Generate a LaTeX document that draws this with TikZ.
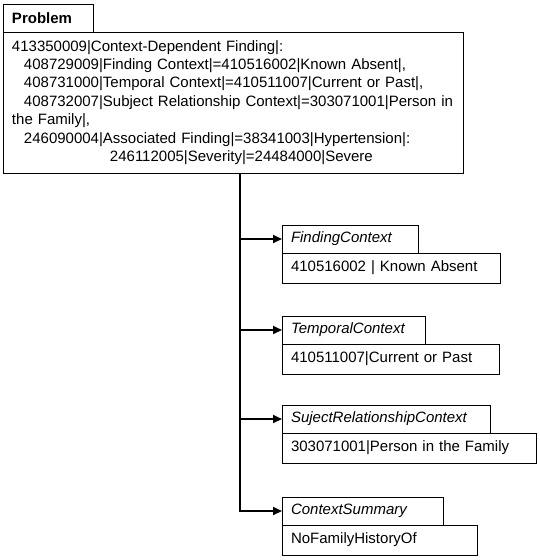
\documentclass[tikz,border=0pt]{standalone}
\usepackage{fontspec}
\setmainfont{Liberation Sans}
\usetikzlibrary{positioning, arrows.meta}
\tikzstyle{tab} = [rectangle, draw, line width=1pt, outer sep=0pt,
                 anchor=north west, inner xsep=9pt, inner ysep=0pt,
                 minimum height=28pt, align=left]
\tikzstyle{branch} = [line width=2pt, draw]
\tikzset{
	valuebox/.style={tab, minimum height=30pt},
	every node/.style={font=\fontsize{15}{18.4}\selectfont},
}

\begin{document}
\begin{tikzpicture}[x=1pt, y=-1pt]

\useasboundingbox (0,0) rectangle (539,560);

\node [tab, text width=72pt] at (3,4) (problem) {\bfseries Problem};
\node [tab, text width=442pt, minimum height=141pt] at (problem.south west) (body)
	{413350009|Context-Dependent Finding|:\\
	\hspace*{12pt}408729009|Finding Context|=410516002|Known Absent|,\\
	\hspace*{12pt}408731000|Temporal Context|=410511007|Current or Past|,\\
	\hspace*{12pt}408732007|Subject Relationship Context|=303071001|Person in\\
	the Family|,\\
	\hspace*{12pt}246090004|Associated Finding|=38341003|Hypertension|:\\
	\hspace*{98pt}246112005|Severity|=24484000|Severe};

\coordinate (trunk) at (240,173);

%contexts
\foreach \i/\y/\tw/\vw/\ctx/\val in {
	1/225/118/200/FindingContext/410516002 | Known Absent,
	2/316/125/199/TemporalContext/410511007|Current or Past,
	3/405/190/236/SujectRelationshipContext/303071001|Person in the Family,
	4/497/143/177/ContextSummary/NoFamilyHistoryOf}
{
	\node [tab, text width=\tw pt] at (282,\y) (ctx\i) {\itshape\ctx};
	\node [valuebox, text width=\vw pt] at (ctx\i.south west) (val\i) {\val};
	\path [branch, -{Triangle[length=9pt, width=8pt]}] (trunk |- ctx\i.west) -- (ctx\i.west);
}

\path [branch] (trunk) -- ([yshift=-1pt]trunk |- ctx4.west);

\end{tikzpicture}
\end{document}
